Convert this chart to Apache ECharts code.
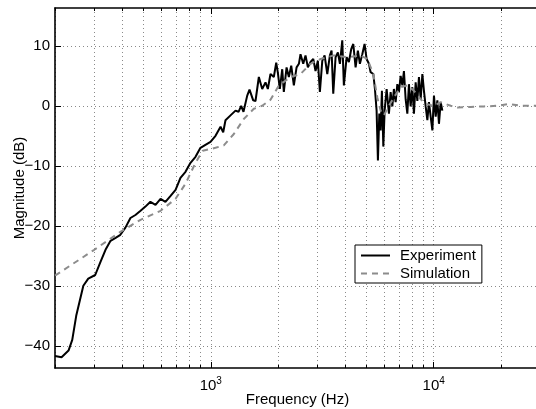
<!DOCTYPE html>
<html>
<head>
<meta charset="utf-8">
<script src="https://cdn.jsdelivr.net/npm/echarts@6/dist/echarts.min.js"></script>
<style>
  html, body { margin: 0; padding: 0; background: #fff; }
  #chart { width: 536px; height: 409px; }
</style>
</head>
<body>
<div id="chart"></div>
<script>
// Measured frequency response (Hz, dB)
const expFreq = [200,214,230,239,249,268,282,303,320,337,
  355,374,393,414,436,459,484,509,536,565,
  595,626,660,695,731,770,811,854,899,946,
  997,1050,1106,1137,1164,1226,1291,1332,1369,1402,
  1457,1492,1550,1587,1643,1701,1760,1803,1853,1918,
  1966,2000,2041,2092,2127,2188,2240,2296,2359,2426,
  2485,2527,2599,2661,2727,2802,2883,2951,3023,3087,
  3164,3241,3332,3423,3483,3544,3630,3718,3796,3890,
  3955,4069,4166,4270,4359,4464,4571,4667,4784,4898,
  5002,5123,5213,5361,5451,5546,5622,5704,5781,5859,
  5944,6026,6152,6300,6411,6525,6632,6751,6871,6987,
  7110,7236,7356,7487,7618,7746,7884,8023,8157,8303,
  8450,8590,8743,8898,9046,9207,9370,9526,9696,9867,
  10031,10211,10390,10563,10753,10940];
const expMag = [-41.7,-41.9,-40.8,-39,-35,-30,-28.8,-28.2,-26,-24,
  -22.5,-22,-21.5,-20.3,-18.7,-18.2,-17.5,-16.8,-16,-16.5,
  -15.5,-16,-15,-14,-12,-11,-9.5,-8.5,-7,-6.5,
  -6,-5,-3.5,-4.4,-2.4,-1.6,-0.8,-1.0,0.0,-1.0,
  1.7,2.7,0.9,0.8,4.8,2.8,3.9,2.8,5.3,4.8,
  7.2,5.5,2.8,6.1,2.3,6.4,4.8,6.7,3.4,6.4,
  7.0,8.6,7.0,8.4,6.4,7.3,7.8,5.8,7.5,2.3,
  7.5,8.4,5.3,8.4,9.2,2.0,8.1,8.9,7.0,10.9,
  3.4,8.1,7.3,9.5,10.3,6.4,9.2,7.0,8.6,10.3,
  7.8,7.0,5.6,5.3,2.8,-0.8,-9.1,-1.3,-4.1,2.5,
  -6.8,-0.8,2.8,-1.3,2.3,-0.1,2.8,0.6,3.6,2.3,
  5.0,3.4,5.8,1.1,-1.3,3.6,-0.1,3.1,-1.3,3.9,
  0.8,4.8,1.1,5.3,2.5,-0.1,-2.4,0.6,-1.8,-4.1,
  1.7,-1.8,0.9,-3.0,0.6,-0.8];

// Simulated frequency response (Hz, dB)
const simFreq = [200,300,393,484,595,695,770,854,920,1050,
  1144,1269,1406,1560,1701,1853,2020,2279,2527,2802,
  3108,3566,4098,4701,5039,5361,5587,5781,5981,6300,
  6632,7110,7618,8157,8743,9207,10031,10753,11925,12780,
  14670,16830,19320,21790,24590,28200,30000];
const simMag = [-28.3,-24.0,-21.0,-19.0,-17.5,-15.5,-13.0,-9.5,-7.5,-7.0,
  -6.6,-4.7,-2.2,-0.5,0.0,1.0,3.4,4.8,5.3,7.0,
  7.8,8.4,8.1,8.4,7.8,5.3,1.4,-0.8,-1.6,0.0,
  1.4,3.1,3.4,2.5,1.1,0.3,0.0,0.6,0.0,-0.3,
  -0.2,-0.1,0.0,0.3,0.0,0.0,0.0];

// Axis ticks
const minorTicks = [200,300,400,500,600,700,800,900,
  1000,2000,3000,4000,5000,6000,7000,8000,9000,
  10000,20000,30000];
const majorTicks = [1000, 10000];
const yLabels = [-40, -30, -20, -10, 0, 10];

const FONT = "'Liberation Sans', Arial, Helvetica, sans-serif";
const X_MIN = 200, X_MAX = 30000, Y_MIN = -43.7, Y_MAX = 16.3;

const gridLine = { show: true, lineStyle: { color: '#8a8a8a', width: 1, type: [1, 3] } };

function logAxis(opts) {
  return Object.assign({
    type: 'log', logBase: 10, min: X_MIN, max: X_MAX, gridIndex: 0,
    axisLine: { show: false, onZero: false },
    axisTick: { show: false },
    axisLabel: { show: false },
    splitLine: { show: false }
  }, opts);
}

const supFormatter = function (v) {
  const e = Math.round(Math.log10(v));
  return '{b|10}{s|' + e + '}';
};

const chart = echarts.init(document.getElementById('chart'), null, { renderer: 'canvas' });

chart.setOption({
  animation: false,
  backgroundColor: '#fff',
  textStyle: { fontFamily: FONT },
  grid: { left: 55, top: 8, width: 485, height: 360, containLabel: false, outerBoundsMode: 'none' },
  xAxis: [
    // bottom frame with minor ticks and grid
    logAxis({
      position: 'bottom',
      axisLine: { show: true, onZero: false, lineStyle: { color: '#000', width: 1.6 } },
      axisTick: { show: true, inside: true, length: 3, customValues: minorTicks,
        lineStyle: { color: '#000', width: 1 } },
      splitLine: gridLine
    }),
    // bottom major ticks and labels
    logAxis({
      position: 'bottom',
      axisTick: { show: true, inside: true, length: 6, customValues: majorTicks,
        lineStyle: { color: '#000', width: 1 } },
      axisLabel: {
        show: true, customValues: majorTicks, margin: 8,
        formatter: supFormatter,
        rich: {
          b: { fontSize: 15, fontFamily: FONT, color: '#000' },
          s: { fontSize: 10, fontFamily: FONT, color: '#000', padding: [0, 0, 9, 0] }
        }
      },
      name: 'Frequency (Hz)',
      nameLocation: 'middle',
      nameGap: 24,
      nameMoveOverlap: false,
      nameTextStyle: { fontSize: 15, fontFamily: FONT, color: '#000' }
    }),
    // top frame with ticks
    logAxis({
      position: 'top',
      axisLine: { show: true, onZero: false, lineStyle: { color: '#000', width: 1.6 } },
      axisTick: { show: true, inside: true, length: 3, customValues: minorTicks,
        lineStyle: { color: '#000', width: 1 } }
    }),
    logAxis({
      position: 'top',
      axisTick: { show: true, inside: true, length: 6, customValues: majorTicks,
        lineStyle: { color: '#000', width: 1 } }
    })
  ],
  yAxis: [{
    type: 'value', min: Y_MIN, max: Y_MAX, splitNumber: 6,
    position: 'left',
    axisLine: { show: true, onZero: false, lineStyle: { color: '#000', width: 1.6 } },
    axisTick: { show: true, inside: true, length: 6, customValues: yLabels,
      lineStyle: { color: '#000', width: 1 } },
    axisLabel: {
      show: true, customValues: yLabels, margin: 5,
      fontSize: 15, fontFamily: FONT, color: '#000',
      formatter: v => (v < 0 ? '\u2212' + Math.abs(v) : String(v))
    },
    splitLine: gridLine,
    name: 'Magnitude (dB)',
    nameLocation: 'middle',
    nameGap: 28,
    nameMoveOverlap: false,
    nameTextStyle: { fontSize: 15, fontFamily: FONT, color: '#000' }
  }],
  legend: {
    orient: 'vertical',
    left: 355, top: 245,
    backgroundColor: '#fff',
    borderColor: '#000', borderWidth: 1, borderRadius: 0,
    padding: [3, 6, 2, 5],
    itemWidth: 29, itemHeight: 14, itemGap: 3,
    itemStyle: { opacity: 0 },
    textStyle: { fontSize: 15, fontFamily: FONT, color: '#000', padding: [0, 0, 0, 5] },
    data: ['Experiment', 'Simulation']
  },
  series: [
    {
      name: 'Experiment', type: 'line', xAxisIndex: 0, yAxisIndex: 0,
      symbol: 'none', showSymbol: false, smooth: false,
      lineStyle: { color: '#000', width: 2 },
      itemStyle: { color: '#000' },
      data: expFreq.map((f, i) => [f, expMag[i]])
    },
    {
      name: 'Simulation', type: 'line', xAxisIndex: 0, yAxisIndex: 0,
      symbol: 'none', showSymbol: false, smooth: false,
      lineStyle: { color: '#8c8c8c', width: 2, type: [6, 5] },
      itemStyle: { color: '#8c8c8c' },
      data: simFreq.map((f, i) => [f, simMag[i]])
    }
  ]
});
</script>
</body>
</html>
